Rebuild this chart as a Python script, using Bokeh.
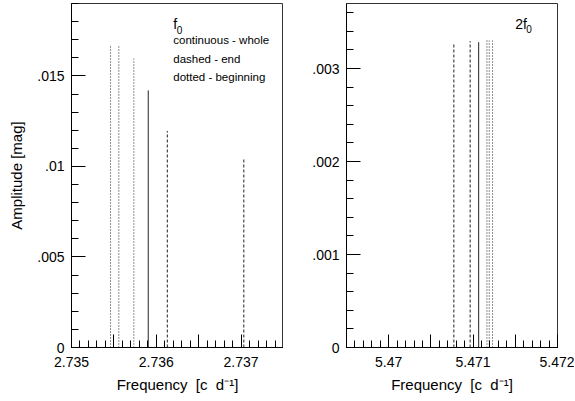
from bokeh.plotting import figure
from bokeh.models import FixedTicker, Range1d, Label
from bokeh.layouts import row
from bokeh.embed import file_html
from bokeh.resources import INLINE

# ---- data: fundamental f0 ----
F0_WHOLE_FREQ = [2.735905]
F0_WHOLE_AMP = [0.01420]
F0_END_FREQ = [2.736130, 2.737032]
F0_END_AMP = [0.01196, 0.01043]
F0_BEG_FREQ = [2.735460, 2.735558, 2.735735]
F0_BEG_AMP = [0.01674, 0.01665, 0.01595]

# ---- data: harmonic 2f0 ----
F2_WHOLE_FREQ = [5.471066]
F2_WHOLE_AMP = [0.003284]
F2_END_FREQ = [5.470772, 5.470965]
F2_END_AMP = [0.003273, 0.003295]
F2_BEG_FREQ = [5.471164, 5.471191, 5.471230]
F2_BEG_AMP = [0.003316, 0.003300, 0.003300]

# ---- axes ----
X1_RANGE = (2.735, 2.7375)
X1_MAJOR = [2.735, 2.7355, 2.736, 2.7365, 2.737, 2.7375]
X1_LABELS = ["2.735", "", "2.736", "", "2.737", ""]
X1_MINOR = [round(2.735 + i * 0.0001, 4) for i in range(26)]

X2_RANGE = (5.4695, 5.472)
X2_MAJOR = [5.4695, 5.47, 5.4705, 5.471, 5.4715, 5.472]
X2_LABELS = ["", "5.47", "", "5.471", "", "5.472"]
X2_MINOR = [round(5.4695 + i * 0.0001, 4) for i in range(26)]

Y1_RANGE = (0.0, 0.019)
Y1_MAJOR = [0.0, 0.005, 0.01, 0.015]
Y1_LABELS = ["0", ".005", ".01", ".015"]
Y1_MINOR = [round(i * 0.001, 3) for i in range(20)]

Y2_RANGE = (0.0, 0.0037)
Y2_MAJOR = [0.0, 0.001, 0.002, 0.003]
Y2_LABELS = ["0", ".001", ".002", ".003"]
Y2_MINOR = [round(i * 0.0002, 4) for i in range(19)]

FONT = "Liberation Sans"
NB = "\u00a0"
XLABEL = "Frequency" + NB * 2 + "[c" + NB * 2 + "d\u207b\u00b9]"


def panel(xr, yr, xmaj, xlab, xmin, ymaj, ylab, ymin, whole, end, beg,
          border_left, border_right, ylabel):
    p = figure(frame_width=211 if border_right else 212, frame_height=344,
               x_range=Range1d(*xr), y_range=Range1d(*yr),
               min_border_left=border_left, min_border_right=border_right,
               min_border_top=3, min_border_bottom=54,
               output_backend="svg", toolbar_location=None,
               background_fill_color="white", border_fill_color="white")
    p.xgrid.visible = False
    p.ygrid.visible = False
    p.outline_line_color = "#333333"
    p.outline_line_width = 1

    p.xaxis.ticker = FixedTicker(ticks=xmaj, minor_ticks=xmin)
    p.xaxis.major_label_overrides = {float(t): l for t, l in zip(xmaj, xlab)}
    p.yaxis.ticker = FixedTicker(ticks=ymaj, minor_ticks=ymin)
    p.yaxis.major_label_overrides = {float(t): l for t, l in zip(ymaj, ylab)}

    for ax in (p.xaxis[0], p.yaxis[0]):
        ax.axis_line_color = "black"
        ax.major_tick_line_color = "black"
        ax.minor_tick_line_color = "black"
        ax.major_tick_out = 0
        ax.minor_tick_out = 0
        ax.major_label_text_font = FONT
        ax.major_label_text_font_size = "14px"
        ax.major_label_text_color = "black"
        ax.axis_label_text_font = FONT
        ax.axis_label_text_font_size = "15px"
        ax.axis_label_text_font_style = "normal"
        ax.axis_label_text_color = "black"
    p.xaxis.major_tick_in = 13
    p.xaxis.minor_tick_in = 7
    p.yaxis.major_tick_in = 14
    p.yaxis.minor_tick_in = 7
    p.xaxis.major_label_standoff = 9
    p.yaxis.major_label_standoff = 7
    p.xaxis.axis_label = XLABEL
    p.xaxis.axis_label_standoff = 6
    p.yaxis.axis_label = ylabel
    p.yaxis.axis_label_standoff = 9

    (wf, wa), (ef, ea), (bf, ba) = whole, end, beg
    p.segment(x0=wf, y0=[0] * len(wf), x1=wf, y1=wa,
              line_color="#222222", line_width=1)
    p.segment(x0=ef, y0=[0] * len(ef), x1=ef, y1=ea,
              line_color="#222222", line_width=1, line_dash="3 2")
    p.segment(x0=bf, y0=[0] * len(bf), x1=bf, y1=ba,
              line_color="#222222", line_width=1, line_dash="1 2")
    return p


p1 = panel(X1_RANGE, Y1_RANGE, X1_MAJOR, X1_LABELS, X1_MINOR,
           Y1_MAJOR, Y1_LABELS, Y1_MINOR,
           (F0_WHOLE_FREQ, F0_WHOLE_AMP), (F0_END_FREQ, F0_END_AMP),
           (F0_BEG_FREQ, F0_BEG_AMP), 71, 0, "Amplitude [mag]")
p2 = panel(X2_RANGE, Y2_RANGE, X2_MAJOR, X2_LABELS, X2_MINOR,
           Y2_MAJOR, Y2_LABELS, Y2_MINOR,
           (F2_WHOLE_FREQ, F2_WHOLE_AMP), (F2_END_FREQ, F2_END_AMP),
           (F2_BEG_FREQ, F2_BEG_AMP), 63, 17, "")

# annotations, left panel
p1.add_layout(Label(x=2.7362, y=0.01786, text="f", text_font=FONT,
                    text_font_size="14px", text_baseline="middle",
                    text_color="black"))
p1.add_layout(Label(x=2.73624, y=0.01755, text="0", text_font=FONT,
                    text_font_size="10px", text_baseline="middle",
                    text_color="black"))
for txt, yy in (("continuous - whole", 0.01697),
                ("dashed - end", 0.01596),
                ("dotted - beginning", 0.01494)):
    p1.add_layout(Label(x=2.7362, y=yy, text=txt, text_font=FONT,
                        text_font_size="11.5px", text_baseline="middle",
                        text_color="black"))

# annotations, right panel
p2.add_layout(Label(x=5.4715, y=0.003481, text="2f", text_font=FONT,
                    text_font_size="14px", text_baseline="middle",
                    text_color="black"))
p2.add_layout(Label(x=5.47163, y=0.00343, text="0", text_font=FONT,
                    text_font_size="10px", text_baseline="middle",
                    text_color="black"))

layout = row(p1, p2)
open("out.html", "w").write(file_html(layout, INLINE))
